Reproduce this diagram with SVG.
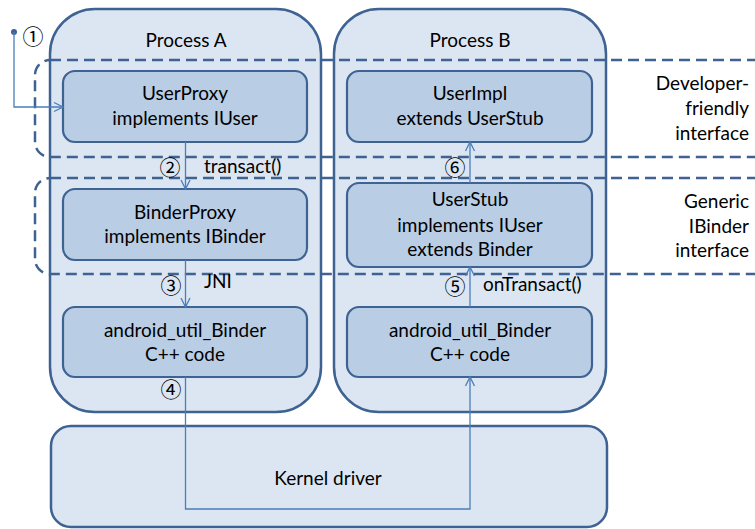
<svg xmlns="http://www.w3.org/2000/svg" width="755" height="529" viewBox="0 0 755 529">
<defs>
<style>
.proc{fill:#DCE6F2;stroke:#3E6291;stroke-width:2.5}
.inner{fill:#B9CDE5;stroke:#3E6291;stroke-width:2.2}
.zone{fill:none;stroke:#3E6291;stroke-width:2.5;stroke-dasharray:11 6}
.t{font-family:Lato,"Liberation Sans",sans-serif;font-size:19px;fill:#000;text-anchor:middle}
.r{text-anchor:end}
.l{text-anchor:start}
.num{font-family:"Noto Sans CJK JP","DejaVu Sans",sans-serif;font-size:21px;fill:#000;text-anchor:middle}
.conn{fill:none;stroke:#4A7EBB;stroke-width:1.3}
</style>
<marker id="arr" markerWidth="12" markerHeight="12" refX="10" refY="6" orient="auto" markerUnits="userSpaceOnUse">
<path d="M1,1.5 L10,6 L1,10.5" fill="none" stroke="#4A7EBB" stroke-width="1.3"/>
</marker>
</defs>

<g id="process-a">
<rect class="proc" x="50" y="9" width="271" height="403" rx="45" ry="45"/>
<text class="t" x="186" y="47">Process A</text>
</g>
<g id="process-b">
<rect class="proc" x="334" y="9" width="272" height="403" rx="45" ry="45"/>
<text class="t" x="470" y="47">Process B</text>
</g>
<g id="kernel-driver">
<rect class="proc" x="51" y="426" width="556" height="101" rx="20" ry="20"/>
<text class="t" x="328" y="485">Kernel driver</text>
</g>

<g id="zone-developer">
<rect class="zone" x="35" y="60" width="735" height="97" rx="15" ry="15"/>
<text class="t r" x="749" y="90">Developer-</text>
<text class="t r" x="749" y="115">friendly</text>
<text class="t r" x="749" y="140">interface</text>
</g>
<g id="zone-generic">
<rect class="zone" x="35" y="178" width="735" height="96" rx="15" ry="15"/>
<text class="t r" x="749" y="208">Generic</text>
<text class="t r" x="749" y="233">IBinder</text>
<text class="t r" x="749" y="257">interface</text>
</g>

<g id="user-proxy">
<rect class="inner" x="63" y="71" width="244" height="71" rx="12" ry="12"/>
<text class="t" x="185" y="100">UserProxy</text>
<text class="t" x="185" y="125">implements IUser</text>
</g>
<g id="binder-proxy">
<rect class="inner" x="63" y="189" width="244" height="71" rx="12" ry="12"/>
<text class="t" x="185" y="219">BinderProxy</text>
<text class="t" x="185" y="243">implements IBinder</text>
</g>
<g id="android-util-binder-a">
<rect class="inner" x="63" y="307" width="244" height="70" rx="12" ry="12"/>
<text class="t" x="185" y="337">android_util_Binder</text>
<text class="t" x="185" y="361">C++ code</text>
</g>
<g id="user-impl">
<rect class="inner" x="347" y="71" width="245" height="71" rx="12" ry="12"/>
<text class="t" x="470" y="100">UserImpl</text>
<text class="t" x="470" y="125">extends UserStub</text>
</g>
<g id="user-stub">
<rect class="inner" x="347" y="183" width="245" height="84" rx="12" ry="12"/>
<text class="t" x="470" y="206">UserStub</text>
<text class="t" x="470" y="232">implements IUser</text>
<text class="t" x="470" y="256">extends Binder</text>
</g>
<g id="android-util-binder-b">
<rect class="inner" x="347" y="307" width="245" height="70" rx="12" ry="12"/>
<text class="t" x="470" y="337">android_util_Binder</text>
<text class="t" x="470" y="361">C++ code</text>
</g>

<g id="connectors">
<circle cx="14" cy="32" r="3" fill="#3E6291"/>
<path class="conn" d="M14,32 V107 H63" marker-end="url(#arr)"/>
<path class="conn" d="M185.5,142 V189" marker-end="url(#arr)"/>
<path class="conn" d="M185.5,260 V307" marker-end="url(#arr)"/>
<path class="conn" d="M185.5,377 V509 H470 V377" marker-end="url(#arr)"/>
<path class="conn" d="M470,307 V267" marker-end="url(#arr)"/>
<path class="conn" d="M470,183 V142" marker-end="url(#arr)"/>
<text class="num" x="33" y="44">①</text>
<text class="num" x="170" y="175">②</text>
<text class="num" x="171" y="293">③</text>
<text class="num" x="171" y="397">④</text>
<text class="num" x="455" y="294">⑤</text>
<text class="num" x="455" y="175">⑥</text>
<text class="t l" x="204" y="173">transact()</text>
<text class="t l" x="204" y="288">JNI</text>
<text class="t l" x="483" y="291">onTransact()</text>
</g>
</svg>
